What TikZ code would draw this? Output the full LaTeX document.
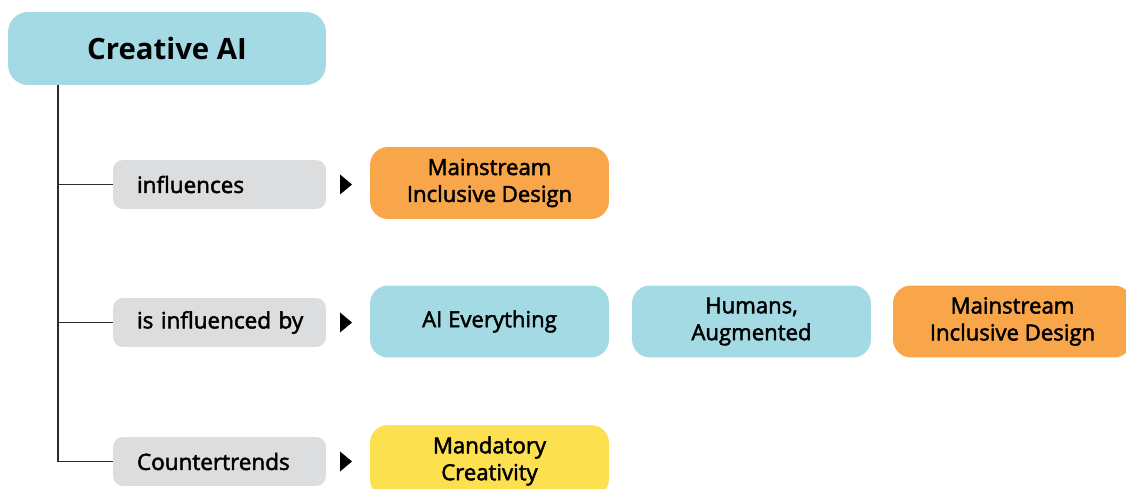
\documentclass[tikz,border=0pt]{standalone}
\usepackage{fontspec}
\setmainfont{Open Sans}
\newfontfamily\semibold[FakeBold=2.2]{Open Sans}
\usetikzlibrary{positioning}

\definecolor{aiblue}{HTML}{A4DAE4}
\definecolor{aiorange}{HTML}{F9A64A}
\definecolor{aiyellow}{HTML}{FDE050}
\definecolor{relgray}{HTML}{DCDDDF}
\definecolor{treeline}{HTML}{2B2B2B}

\begin{document}
\begin{tikzpicture}[y=-0.02cm,x=0.02cm,
	root/.style={fill=aiblue, rounded corners=0.4cm, inner sep=0pt,
		minimum width=6.36cm, minimum height=1.46cm,
		font=\bfseries\fontsize{16.7}{20}\selectfont},
	relation/.style={fill=relgray, rounded corners=0.2cm, inner xsep=0.24cm, inner ysep=0pt,
		text width=3.78cm, align=left, minimum height=0.98cm,
		execute at begin node={\hspace*{0.24cm}},
		font=\semibold\fontsize{12.8}{15}\selectfont},
	trend/.style={rounded corners=0.36cm, inner sep=0pt, align=center,
		minimum width=4.78cm, minimum height=1.44cm,
		font=\semibold\fontsize{12.6}{15.3}\selectfont},
	branch/.style={draw=treeline, line width=0.6pt}]
	\newcommand\Tip{+(-6,-10) -- +(6,0) -- +(-6,10) -- cycle}

	\clip (0,0) rectangle (1126,489);

	\node[root] (creative) at (167,48.5) {Creative AI};

	\node[relation] (influences) at (219.5,184.5) {influences};
	\node[relation] (influencedby) at (219.5,322.5) {is influenced by};
	\node[relation] (counter) at (219.5,461.5) {Countertrends};

	\node[trend, fill=aiorange] (mid1) at (489.5,183) {Mainstream\\Inclusive Design};
	\node[trend, fill=aiblue] (aieverything) at (489.5,321.5) {AI Everything};
	\node[trend, fill=aiblue] (humans) at (751.5,321.5) {Humans,\\Augmented};
	\node[trend, fill=aiorange] (mid2) at (1012.5,321.5) {Mainstream\\Inclusive Design};
	\node[trend, fill=aiyellow] (mandatory) at (489.5,461) {Mandatory\\Creativity};

	% tree
	\coordinate (trunk) at (58,85);
	\draw[branch] (trunk) |- (influences.west);
	\draw[branch] (trunk) |- (influencedby.west);
	\draw[branch] (trunk) |- (counter.west);

	% pointers
	\fill (346,184.5) \Tip;
	\fill (346,322.5) \Tip;
	\fill (346,461.5) \Tip;
\end{tikzpicture}
\end{document}
